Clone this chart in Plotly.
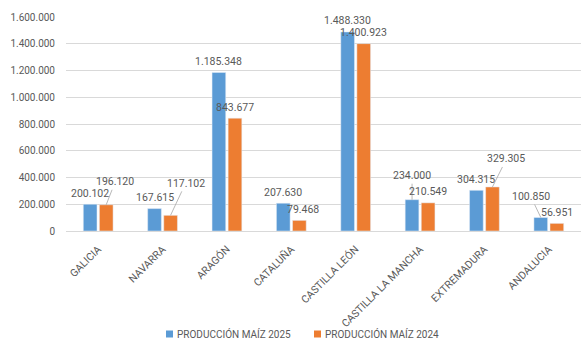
import plotly.graph_objects as go

regiones = ["GALICIA", "NAVARRA", "ARAGÓN", "CATALUÑA", "CASTILLA LEÓN",
            "CASTILLA LA MANCHA", "EXTREMADURA", "ANDALUCIA"]
prod_2025 = [200102, 167615, 1185348, 207630, 1488330, 234000, 304315, 100850]
prod_2024 = [196120, 117102, 843677, 79468, 1400923, 210549, 329305, 56951]
y_ticks = [0, 200000, 400000, 600000, 800000, 1000000, 1200000, 1400000, 1600000]
series_names = ["PRODUCCIÓN MAÍZ 2025", "PRODUCCIÓN MAÍZ 2024"]

# label placement (pixel offsets): (ax, ay) for leader-line labels, None = plain label above bar
lab25 = [None, None, None, None, None, (0, -24), None, (-10, -21)]
lab24 = [(9, -23), (15, -32), None, None, None, None, (14, -28), None]
plain_dx25 = [0, 0, 0, 0, 0, 0, 0, 0]
plain_dx24 = [0, 0, 0, 4, 0, 0, 0, 0]

BLUE = "#5B9BD5"
ORANGE = "#ED7D31"
FONT = "Roboto"
TXT = "#595959"

W, H = 581, 340
ML, MR, MT, MB = 66, 0, 17, 109
PW, PH = W - ML - MR, H - MT - MB

def px_x(px):
    return (px - ML) / PW

def px_y(py):
    return (H - MB - py) / PH

def fmt(v):
    return f"{v:,}".replace(",", ".")

fig = go.Figure()
for name, vals, col in ((series_names[0], prod_2025, BLUE), (series_names[1], prod_2024, ORANGE)):
    fig.add_trace(go.Bar(name=name, x=regiones, y=vals, marker_color=col, showlegend=False))

annotations = []
for series, labs, dxs, shift in ((prod_2025, lab25, plain_dx25, -8), (prod_2024, lab24, plain_dx24, 8)):
    for cat, v, lab, dx in zip(regiones, series, labs, dxs):
        if lab is None:
            annotations.append(dict(x=cat, y=v, xref="x", yref="y", text=fmt(v),
                                    showarrow=False, xshift=shift + dx, yshift=11,
                                    font=dict(family=FONT, size=10.5, color=TXT)))
        else:
            annotations.append(dict(x=cat, y=v, xref="x", yref="y", text=fmt(v),
                                    showarrow=True, arrowhead=0, arrowwidth=0.8,
                                    arrowcolor="#a6a6a6", ax=lab[0], ay=lab[1],
                                    standoff=0, xshift=shift,
                                    font=dict(family=FONT, size=10.5, color=TXT)))

# manual legend (small squares + text)
shapes = []
legend_x = [166, 314]
legend_y = 334
for name, col, lx in zip(series_names, (BLUE, ORANGE), legend_x):
    shapes.append(dict(type="rect", xref="paper", yref="paper",
                       x0=px_x(lx), x1=px_x(lx + 7), y0=px_y(legend_y + 3.5), y1=px_y(legend_y - 3.5),
                       fillcolor=col, line=dict(width=0)))
    annotations.append(dict(x=px_x(lx + 9), y=px_y(legend_y), xref="paper", yref="paper",
                            xanchor="left", yanchor="middle", showarrow=False, text=name,
                            font=dict(family=FONT, size=10, color=TXT)))

fig.update_layout(
    width=W, height=H,
    margin=dict(l=ML, r=MR, t=MT, b=MB, autoexpand=False),
    paper_bgcolor="white", plot_bgcolor="white",
    barmode="group", bargap=0.5, bargroupgap=0.15,
    separators=",.",
    font=dict(family=FONT, size=10, color=TXT),
    showlegend=False,
    annotations=annotations,
    shapes=shapes,
)
fig.update_xaxes(tickangle=-45, showline=True, linecolor="#d9d9d9", linewidth=1,
                 ticks="", ticklabelstandoff=7,
                 tickfont=dict(family=FONT, size=10.5, color=TXT))
fig.update_yaxes(range=[0, 1600000], tickvals=y_ticks,
                 ticktext=[fmt(t) for t in y_ticks],
                 showgrid=True, gridcolor="#d9d9d9", gridwidth=1,
                 zeroline=False, showline=False, ticks="", ticklabelstandoff=10,
                 tickfont=dict(family=FONT, size=10, color=TXT))

fig.write_html("out.html")
